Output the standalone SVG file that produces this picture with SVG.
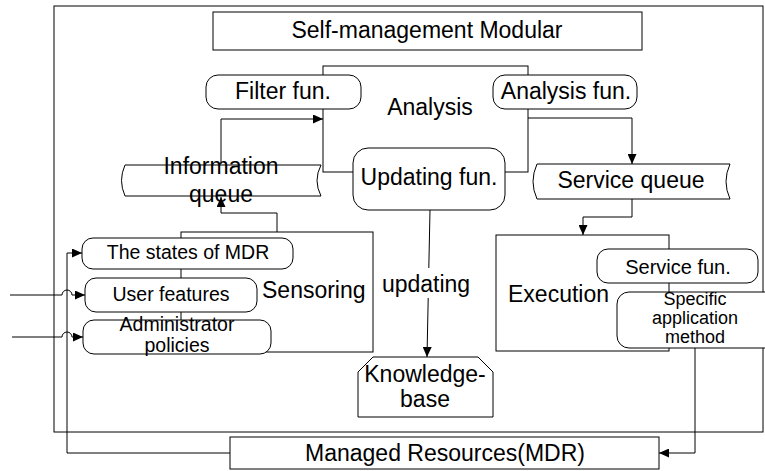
<svg xmlns="http://www.w3.org/2000/svg" width="765" height="471" viewBox="0 0 765 471">
<defs>
<style>
.b{fill:#fff;stroke:#000;stroke-width:1}
.c{fill:none;stroke:#000;stroke-width:1}
text{font-family:"Liberation Sans",Arial,sans-serif;fill:#000}
.L{font-size:23px}
.S{font-size:19.5px}
.P{font-size:18px}
.m{text-anchor:middle}
</style>
<marker id="ah" markerUnits="userSpaceOnUse" markerWidth="11" markerHeight="9" refX="10" refY="4.5" orient="auto">
<path d="M0,0 L10,4.5 L0,9 Z" fill="#000"/>
</marker>
</defs>
<rect width="765" height="471" fill="#fff"/>
<g id="outer"><rect class="b" x="54" y="6" width="709" height="426"/></g>
<g id="analysis-area"><rect class="b" x="323" y="66" width="205" height="106"/></g>
<g id="sensoring-area"><rect class="b" x="181" y="232" width="192" height="120"/></g>
<g id="execution-area"><rect class="b" x="496" y="235" width="173" height="116"/></g>
<g id="connectors">
<path class="c" d="M221,164 V119 H323" marker-end="url(#ah)"/>
<path class="c" d="M277,232 V213 H221 V197" marker-end="url(#ah)"/>
<path class="c" d="M528,118 H632 V164" marker-end="url(#ah)"/>
<path class="c" d="M632,199 V217 H583 V235" marker-end="url(#ah)"/>
<path class="c" d="M430,210 L427,357" marker-end="url(#ah)"/>
<path class="c" d="M695,348 V453 H659" marker-end="url(#ah)"/>
<path class="c" d="M230,453 H67 V253 H82" marker-end="url(#ah)"/>
<path class="c" d="M10,295 H62 A5,5 0 0 1 72,295 H85" marker-end="url(#ah)"/>
<path class="c" d="M12,337 H62 A5,5 0 0 1 72,337 H83" marker-end="url(#ah)"/>
<rect x="380" y="268" width="94" height="30" fill="#fff"/>
<text class="L m" x="426" y="292">updating</text>
</g>
<g id="title"><rect class="b" x="213" y="12" width="429" height="38"/><text class="L m" x="427" y="38">Self-management Modular</text></g>
<g id="analysis-label"><text class="L m" x="430" y="115">Analysis</text></g>
<g id="filter"><rect class="b" x="206" y="75" width="155" height="34" rx="12"/><text class="L m" x="283" y="99">Filter fun.</text></g>
<g id="analysis-fun"><rect class="b" x="493" y="75" width="144" height="34" rx="12"/><text class="L m" x="566" y="99">Analysis fun.</text></g>
<g id="updating-fun"><rect class="b" x="353" y="148" width="152" height="62" rx="15"/><text class="L m" x="429" y="185">Updating fun.</text></g>
<g id="info-queue"><path class="b" d="M125,165 H321 Q313,180.5 321,196 H125 Q118,180.5 125,165 Z"/><text class="L m" x="221" y="174">Information</text><text class="L m" x="221" y="202">queue</text></g>
<g id="service-queue"><path class="b" d="M537,164 H730 Q722,181.5 730,199 H537 Q529,181.5 537,164 Z"/><text class="L m" x="631" y="188">Service queue</text></g>
<g id="sensoring-label"><text class="L" x="262" y="298">Sensoring</text></g>
<g id="states"><rect class="b" x="82" y="238" width="211" height="31" rx="11"/><text class="S m" x="188" y="259">The states of MDR</text></g>
<g id="user"><rect class="b" x="85" y="278" width="172" height="34" rx="11"/><text class="S m" x="171" y="301">User features</text></g>
<g id="admin"><rect class="b" x="83" y="320" width="188" height="34" rx="11"/><text class="S m" x="177" y="331">Administrator</text><text class="S m" x="177" y="352">policies</text></g>
<g id="execution-label"><text class="L" x="508" y="302">Execution</text></g>
<g id="service-fun"><rect class="b" x="597" y="249" width="161" height="34" rx="11"/><text class="m" style="font-size:20px" x="678" y="274">Service fun.</text></g>
<g id="specific"><rect class="b" x="617" y="292" width="160" height="56" rx="12"/><text class="P m" x="695" y="305">Specific</text><text class="P m" x="695" y="324">application</text><text class="P m" x="695" y="343">method</text></g>
<g id="knowledge"><path class="b" d="M358,372 L373,357 H478 L493,372 V417 H358 Z"/><text class="L m" x="425" y="382">Knowledge-</text><text class="L m" x="425" y="407">base</text></g>
<g id="mdr"><rect class="b" x="230" y="437" width="429" height="32"/><text class="L m" x="445" y="461">Managed Resources(MDR)</text></g>
</svg>
